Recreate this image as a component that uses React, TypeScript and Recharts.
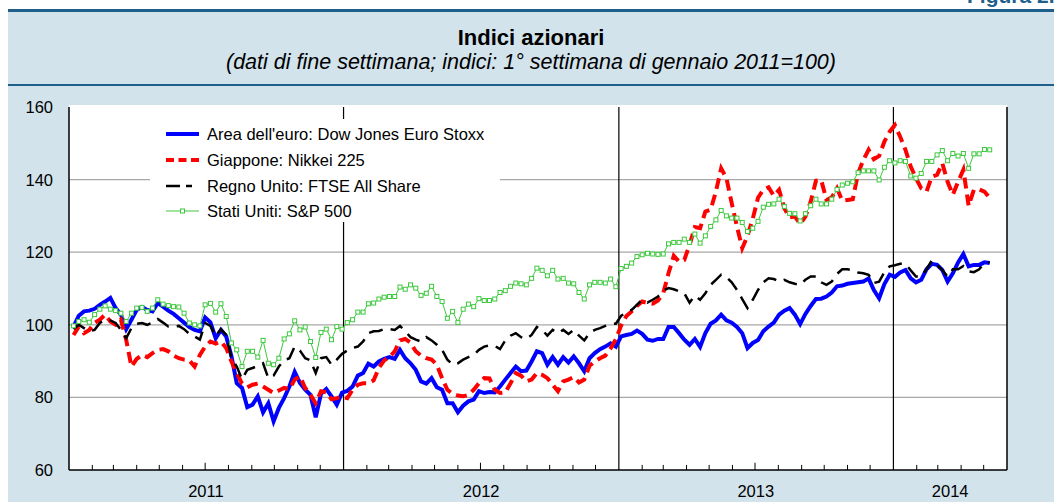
import { LineChart, Line, XAxis, YAxis, ReferenceLine } from "recharts";

// weekly end-of-week values, first week of January 2011 = 100
const euroStoxx = [
  99.5, 102.5, 103.7, 103.9, 104.4, 105.5, 106.4, 107.4, 104.6, 102.8,
  98.8, 101.4, 104.1, 104.9, 104.1, 103.7, 106, 105, 103.9, 103,
  101.8, 100.6, 99.4, 98.6, 98.2, 102, 100.7, 96.3, 98.6, 96.8,
  91.3, 83.9, 82.6, 77.3, 78, 80.3, 75.9, 78.4, 73.4, 77.1,
  79.8, 83, 87, 84, 82.1, 80.7, 74.5, 81, 82.3, 80.3,
  78, 81.3, 81.8, 83, 86, 86.7, 89.3, 88.5, 89.9, 90.6,
  91.1, 90.6, 93.1, 90.8, 89.4, 87.6, 84.4, 83.8, 85.3, 82.8,
  82.1, 78.4, 78.4, 75.9, 77.7, 78.9, 79.4, 81.7, 81.2, 81.5,
  81.4, 83, 84.9, 86.7, 88.5, 87.2, 87.4, 89.9, 92.7, 92.2,
  89, 91.1, 89, 91.1, 89.6, 91.3, 89.4, 87.2, 90.8, 92.2,
  93.3, 94, 94.9, 94, 96.8, 97.2, 97.5, 98.4, 97.5, 95.9,
  95.6, 96.1, 96.1, 99.4, 99.4, 97.7, 95.9, 94.5, 96.1, 93.9,
  97.7, 100.3, 101.2, 102.8, 101.2, 100.6, 99.4, 97.7, 93.6, 95,
  95.8, 98.2, 99.5, 100.6, 102.8, 103.9, 104.6, 102.8, 100.2, 103,
  105.2, 107.1, 107.2, 107.8, 108.9, 110.6, 110.8, 111.3, 111.5, 111.7,
  111.9, 112.8, 109.6, 107.3, 111.2, 113.8, 113.2, 114.4, 115.1, 112.8,
  111.7, 112.4, 115.3, 116.8, 116.5, 115.1, 111.9, 114.2, 117.2, 119.5,
  116.1, 116.5, 116.5, 117.2, 117,
];

const nikkei = [
  97.2, 99.5, 97.7, 98.6, 100.5, 101.4, 102.8, 100.9, 100, 101.4,
  95.9, 88.5, 90.6, 91.7, 91.1, 92.2, 93.1, 93.3, 92.7, 91.5,
  90.8, 90.4, 90.2, 88.5, 91.7, 94, 95.4, 94.8, 95.4, 93.6,
  89.9, 86.7, 83.8, 82.8, 83.5, 83.8, 83, 82.1, 81.2, 81.9,
  82.6, 82.3, 84.9, 85.8, 82.6, 80.7, 78.4, 81.7, 81.4, 79.5,
  79.8, 80.2, 79.8, 82.1, 83.5, 83.9, 83.9, 84.7, 88.1, 90.2,
  91.1, 92.7, 95.7, 96.1, 95.1, 92.7, 91.5, 90.8, 90.4, 89,
  85.3, 82.1, 81, 80.5, 80.3, 80.7, 82.1, 83.9, 85.3, 85.2,
  82.1, 81.2, 81.4, 83.9, 86.7, 86, 84.4, 84.9, 86.7, 86.2,
  85.3, 83.5, 81.7, 84.4, 84.9, 85.6, 84.1, 84.9, 88.7, 89.9,
  90.8, 91.5, 93.5, 96, 99.8, 102.4, 103.7, 105.2, 106.4, 106,
  105.8, 106.7, 108.7, 114.2, 119, 117.4, 117.9, 122, 126.9, 126.6,
  131.2, 131.7, 136.7, 143.1, 140.4, 133.5, 127.1, 121.1, 124.5, 129.2,
  135, 137.2, 137.9, 135.5, 137.2, 132.1, 129.6, 129.8, 127.8, 129.8,
  133.9, 139.7, 139.9, 134.4, 135.1, 137.6, 134.2, 134.4, 134.6, 141.7,
  145.4, 148.2, 145.6, 146.5, 150.5, 153.2, 155, 151.8, 148.2, 143.6,
  140.4, 137.6, 136.7, 140.8, 141.3, 144.5, 139.4, 135.8, 139.4, 142.7,
  132.8, 137.2, 137.3, 136.7, 134.9,
];

const ftse = [
  98.8, 100, 99.1, 98.2, 98.6, 100.5, 101.4, 101.2, 100.5, 98.6,
  96.3, 99.1, 100.3, 100.5, 100, 100.6, 101.6, 100.6, 99.5, 99.5,
  99.7, 98.8, 97.5, 96.8, 95.9, 100.5, 99.7, 96.8, 98.8, 97.2,
  90.8, 88.5, 85, 87.6, 88.1, 88.7, 89.4, 85.3, 86, 88.5,
  90.2, 90.8, 94, 92.9, 90.8, 90.2, 86.7, 90.8, 91.1, 89,
  90.4, 92, 92.9, 93.6, 94, 95.4, 97.7, 98.2, 98.3, 98.8,
  98.8, 98.6, 99.7, 98.2, 96.6, 95.9, 95.4, 96.6, 95.7, 94.5,
  93.1, 90.4, 89, 89.4, 90.4, 91.1, 91.7, 93.1, 94, 94.3,
  94.2, 93.3, 95.7, 97, 97.7, 96.6, 96.1, 97.2, 99.4, 98.6,
  97, 98.6, 97.7, 98.6, 97.5, 98.6, 97, 95.7, 97.7, 98.6,
  99.1, 99.7, 100.2, 100.3, 102.5, 103.3, 104.1, 105.5, 106.9, 106.1,
  106.9, 107.8, 109.4, 110.1, 109.8, 109.2, 108.7, 106.1, 108, 106.9,
  108.7, 111, 112.4, 113.8, 113.1, 111.7, 109.6, 107.1, 104.6, 106.9,
  109.6, 111.7, 112.8, 112.6, 111.9, 112.4, 111.7, 111.3, 111, 112.4,
  113.3, 113.3, 111.7, 111, 111.9, 114, 115.3, 115.3, 115, 114.4,
  114.2, 113.8, 111.5, 111.9, 114.5, 116.1, 116.4, 116.8, 116.8, 115,
  113.3, 113.3, 115.3, 117.7, 116.5, 115.1, 113.3, 115.3, 115.3, 116.2,
  114.7, 114.5, 115.3, 117, 117.2,
];

const sp500 = [
  99.7, 100.9, 101.4, 100.7, 102.8, 104.3, 105.2, 104.3, 103.9, 103.2,
  100.9, 103.2, 104.6, 104.8, 103.7, 104.6, 106.9, 105.7, 105.3, 105,
  104.9, 103.2, 100.5, 100, 99.7, 105.5, 105.9, 103.5, 105.8, 102.3,
  95, 93.1, 88.5, 92.7, 92.7, 91.1, 95.7, 89.4, 89, 90.8,
  96.1, 97.5, 101.1, 98.6, 99.4, 95.4, 91, 97.9, 98.8, 95.9,
  99.5, 98.8, 100.6, 101.4, 103.5, 103.5, 105.8, 106, 107.1, 107.6,
  107.8, 107.8, 110.4, 109.8, 111, 110.1, 108.1, 108.7, 110.6, 107.8,
  106.4, 101.8, 103.7, 100.6, 104.3, 105.7, 105, 107.2, 106.7, 106.7,
  107.1, 108.9, 109.4, 110.6, 111.5, 111.3, 111, 112.8, 115.6, 115,
  113.5, 115, 112.6, 112.8, 111.5, 111.3, 108.9, 107.1, 111, 111.7,
  111.7, 111.5, 112.6, 110.5, 115.5, 116.1, 117, 118.8, 119.3, 119.7,
  119.5, 119.4, 119.5, 122.3, 122.7, 122.7, 123.6, 122.7, 125, 122.5,
  124.5, 127.1, 128.9, 131.5, 130, 129.4, 129.4, 128.2, 125.7, 126.6,
  128.5, 132.4, 133.2, 133.3, 134.6, 132.6, 130.7, 130.6, 128.6, 130.6,
  132.8, 134.6, 133.3, 133.3, 134.6, 137.3, 138.5, 139, 139.4, 141.9,
  142.4, 142.4, 142.4, 139.9, 143.4, 145.2, 144.6, 145.2, 145, 141,
  140.4, 141.7, 145, 145, 146.8, 148, 145.2, 147.2, 146.5, 147.2,
  143.1, 147.1, 147.1, 148.3, 148.2,
];

const yearLabels = ["2011", "2012", "2013", "2014"];
const yTicks = [60, 80, 100, 120, 140, 160];
const gridValues = [80, 100, 120, 140];

const seriesNames = [
  "Area dell'euro: Dow Jones Euro Stoxx",
  "Giappone: Nikkei 225",
  "Regno Unito: FTSE All Share",
  "Stati Uniti: S&P 500",
];

const dayOf = (y: number, m: number, d: number) =>
  (Date.UTC(y, m, d) - Date.UTC(2011, 0, 1)) / 86400000;

const firstWeek = dayOf(2011, 0, 7);
const endDay = dayOf(2014, 5, 1);
const yearStarts = [dayOf(2012, 0, 1), dayOf(2013, 0, 1), dayOf(2014, 0, 1)];
const yearCenters = [
  dayOf(2011, 6, 2),
  dayOf(2012, 6, 2),
  dayOf(2013, 6, 2),
  (dayOf(2014, 0, 1) + endDay) / 2,
];
const monthTicks: { d: number; mid: boolean }[] = [];
for (let m = 1; m < 41; m++) {
  if (m % 12 === 0) continue;
  monthTicks.push({ d: dayOf(2011 + Math.floor(m / 12), m % 12, 1), mid: m % 12 === 6 });
}

const data = euroStoxx.map((v, i) => ({
  d: firstWeek + 7 * i,
  eu: v,
  jp: nikkei[i],
  uk: ftse[i],
  us: sp500[i],
}));

const BLUE = "#0000ff";
const RED = "#ff0000";
const GREEN = "#3cc83c";
const PANEL = "#d2e3ec";
const DARK = "#1f5f8c";
const FONT = '"Liberation Sans", Arial, Helvetica, sans-serif';
const TICK_SIZE = 16.5;

const SquareDot = (p: any) => (
  <rect
    key={`sq-${p.index}`}
    x={p.cx - 2}
    y={p.cy - 2}
    width={4}
    height={4}
    fill="#fff"
    stroke={GREEN}
    strokeWidth={1}
  />
);

const YTick = (anchor: "start" | "end") => (p: any) => (
  <text
    x={p.x}
    y={p.y}
    textAnchor={anchor}
    dominantBaseline="central"
    fontSize={TICK_SIZE}
    fontFamily={FONT}
    fill="#000"
  >
    {p.payload.value}
  </text>
);

const XTick = (p: any) => (
  <text x={p.x} y={p.y} textAnchor="middle" fontSize={TICK_SIZE} fontFamily={FONT} fill="#000">
    {yearLabels[p.index]}
  </text>
);

function LegendRow({ y, label, children }: { y: number; label: string; children: any }) {
  return (
    <>
      <svg style={{ position: "absolute", left: 166, top: y - 6 }} width={34} height={12}>
        {children}
      </svg>
      <div
        style={{
          position: "absolute",
          left: 207,
          top: y - 10,
          fontSize: 16.5,
          lineHeight: "20px",
          whiteSpace: "nowrap",
          color: "#000",
        }}
      >
        {label}
      </div>
    </>
  );
}

export default function App() {
  return (
    <div
      style={{
        position: "absolute",
        left: 0,
        top: 0,
        width: 1054,
        height: 502,
        overflow: "hidden",
        background: "#fff",
        fontFamily: FONT,
      }}
    >
      <div
        style={{
          position: "absolute",
          left: 967,
          top: -15,
          fontSize: 21,
          lineHeight: "21px",
          fontWeight: "bold",
          color: DARK,
          whiteSpace: "nowrap",
        }}
      >
        Figura 2.2
      </div>
      <div style={{ position: "absolute", left: 8, top: 9, width: 1046, height: 3, background: DARK }} />
      <div style={{ position: "absolute", left: 8, top: 12, width: 1046, height: 72, background: PANEL }} />
      <div
        style={{
          position: "absolute",
          left: 8,
          top: 25,
          width: 1046,
          textAlign: "center",
          fontSize: 22,
          fontWeight: "bold",
          lineHeight: "26px",
        }}
      >
        Indici azionari
      </div>
      <div
        style={{
          position: "absolute",
          left: 8,
          top: 50,
          width: 1046,
          textAlign: "center",
          fontSize: 21.5,
          fontStyle: "italic",
          lineHeight: "24px",
        }}
      >
        (dati di fine settimana; indici: 1° settimana di gennaio 2011=100)
      </div>
      <div style={{ position: "absolute", left: 8, top: 84, width: 1046, height: 2, background: DARK }} />
      <div style={{ position: "absolute", left: 8, top: 86, width: 1046, height: 416, background: PANEL }} />
      <div style={{ position: "absolute", left: 69, top: 105, width: 938, height: 365, background: "#fff" }} />

      <div style={{ position: "absolute", left: 0, top: 0 }}>
        <LineChart
          width={1054}
          height={502}
          data={data}
          margin={{ top: 107, right: 0, bottom: 0, left: 8 }}
        >
          <XAxis
            dataKey="d"
            type="number"
            domain={[0, endDay]}
            ticks={yearCenters}
            tick={XTick}
            tickLine={false}
            tickSize={0}
            tickMargin={27}
            height={32}
            axisLine={{ stroke: "#000", strokeWidth: 1.5 }}
            allowDataOverflow
          />
          <YAxis
            yAxisId="l"
            domain={[60, 160]}
            ticks={yTicks}
            width={61}
            tick={YTick("end")}
            tickLine={false}
            tickSize={0}
            tickMargin={16}
            axisLine={{ stroke: "#000", strokeWidth: 1.5 }}
            interval={0}
          />
          <YAxis
            yAxisId="r"
            orientation="right"
            domain={[60, 160]}
            ticks={yTicks}
            width={47}
            tick={YTick("start")}
            tickLine={false}
            tickSize={0}
            tickMargin={13}
            axisLine={{ stroke: "#000", strokeWidth: 1.5 }}
            interval={0}
          />
          {gridValues.map((v) => (
            <ReferenceLine key={`g${v}`} yAxisId="l" y={v} stroke="#a8a8a8" strokeWidth={1.2} />
          ))}
          {yearStarts.map((d) => (
            <ReferenceLine key={`y${d}`} yAxisId="l" x={d} stroke="#000" strokeWidth={1.2} />
          ))}
          {monthTicks.map((t) => (
            <ReferenceLine
              key={`m${t.d}`}
              yAxisId="l"
              segment={[
                { x: t.d, y: 60 },
                { x: t.d, y: t.mid ? 62 : 61.4 },
              ]}
              stroke="#000"
              strokeWidth={1}
            />
          ))}
          <Line
            yAxisId="l"
            dataKey="eu"
            stroke={BLUE}
            strokeWidth={4}
            dot={false}
            isAnimationActive={false}
          />
          <Line
            yAxisId="l"
            dataKey="jp"
            stroke={RED}
            strokeWidth={4}
            strokeDasharray="11 6"
            dot={false}
            isAnimationActive={false}
          />
          <Line
            yAxisId="l"
            dataKey="uk"
            stroke="#000"
            strokeWidth={2.5}
            strokeDasharray="14 8"
            dot={false}
            isAnimationActive={false}
          />
          <Line
            yAxisId="l"
            dataKey="us"
            stroke={GREEN}
            strokeWidth={1}
            dot={SquareDot}
            isAnimationActive={false}
          />
        </LineChart>
      </div>

      <div style={{ position: "absolute", left: 150, top: 119, width: 350, height: 103, background: "#fff" }} />
      <LegendRow y={134} label={seriesNames[0]}>
        <line x1={0} y1={6} x2={33} y2={6} stroke={BLUE} strokeWidth={4} />
      </LegendRow>
      <LegendRow y={160} label={seriesNames[1]}>
        <line x1={0} y1={6} x2={33} y2={6} stroke={RED} strokeWidth={4} strokeDasharray="8 4.5" />
      </LegendRow>
      <LegendRow y={186} label={seriesNames[2]}>
        <line x1={0} y1={6} x2={33} y2={6} stroke="#000" strokeWidth={2.5} strokeDasharray="14 6 6 7" />
      </LegendRow>
      <LegendRow y={211} label={seriesNames[3]}>
        <line x1={0} y1={6} x2={33} y2={6} stroke={GREEN} strokeWidth={1} />
        <rect x={14.5} y={4} width={4} height={4} fill="#fff" stroke={GREEN} />
      </LegendRow>
    </div>
  );
}
